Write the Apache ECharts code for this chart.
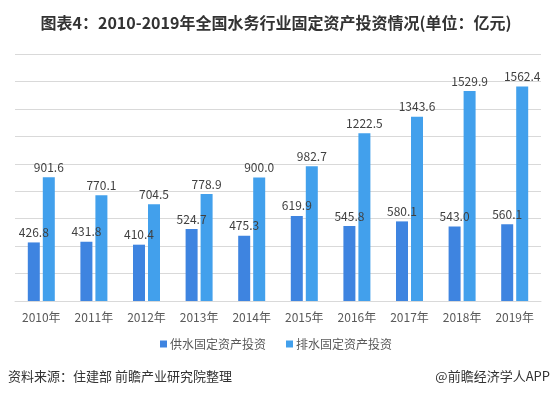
<!DOCTYPE html>
<html>
<head>
<meta charset="utf-8">
<script src="https://cdn.jsdelivr.net/npm/echarts@6/dist/echarts.min.js"></script>
<style>
  html, body { margin: 0; padding: 0; background: #fff; }
  #chart { width: 552px; height: 399px; }
</style>
</head>
<body>
<div id="chart"></div>
<script>
const years = ["2010年", "2011年", "2012年", "2013年", "2014年", "2015年", "2016年", "2017年", "2018年", "2019年"];
const supplyInvest = [426.8, 431.8, 410.4, 524.7, 475.3, 619.9, 545.8, 580.1, 543.0, 560.1];
const drainInvest = [901.6, 770.1, 704.5, 778.9, 900.0, 982.7, 1222.5, 1343.6, 1529.9, 1562.4];
const seriesNames = ["供水固定资产投资", "排水固定资产投资"];

const font = '"Noto Sans CJK SC", "Noto Sans", sans-serif';

const chart = echarts.init(document.getElementById("chart"), null, { renderer: "canvas" });

function labelStyle() {
  return {
    show: true,
    position: "top",
    distance: 4,
    color: "#404040",
    fontSize: 12,
    fontFamily: font,
    formatter: (p) => p.value.toFixed(1)
  };
}

chart.setOption({
  backgroundColor: "#fff",
  animation: false,
  title: {
    text: "图表4：2010-2019年全国水务行业固定资产投资情况(单位：亿元)",
    left: "center",
    top: 10,
    textStyle: { fontSize: 16, fontWeight: "bold", color: "#333", fontFamily: font }
  },
  legend: {
    data: seriesNames,
    bottom: 44,
    left: "center",
    icon: "rect",
    itemWidth: 7,
    itemHeight: 7,
    itemGap: 20,
    textStyle: { fontSize: 12, color: "#595959", fontFamily: font, padding: [0, 0, 0, -2] }
  },
  grid: { left: 15, right: 11, top: 54, bottom: 98, containLabel: false },
  xAxis: {
    type: "category",
    data: years,
    axisLine: { lineStyle: { color: "#d9d9d9" } },
    axisTick: { show: false },
    axisLabel: { color: "#595959", fontSize: 12, fontFamily: font, margin: 10 }
  },
  yAxis: {
    type: "value",
    min: 0,
    max: 1800,
    interval: 200,
    axisLabel: { show: false },
    axisLine: { show: false },
    axisTick: { show: false },
    splitLine: { lineStyle: { color: "#d9d9d9" } }
  },
  series: [
    {
      name: seriesNames[0],
      type: "bar",
      data: supplyInvest,
      barWidth: 12,
      barGap: "25%",
      itemStyle: { color: "#3E84E0" },
      label: labelStyle()
    },
    {
      name: seriesNames[1],
      type: "bar",
      data: drainInvest,
      barWidth: 12,
      itemStyle: { color: "#42A0EC" },
      label: labelStyle()
    }
  ],
  graphic: [
    {
      type: "text",
      left: 8,
      top: 370,
      style: { text: "资料来源：住建部 前瞻产业研究院整理", fill: "#333", fontSize: 13, fontFamily: font }
    },
    {
      type: "text",
      right: 2,
      top: 370,
      style: { text: "@前瞻经济学人APP", fill: "#333", fontSize: 13, fontFamily: font }
    }
  ]
});

window.addEventListener("resize", () => chart.resize());
</script>
</body>
</html>
